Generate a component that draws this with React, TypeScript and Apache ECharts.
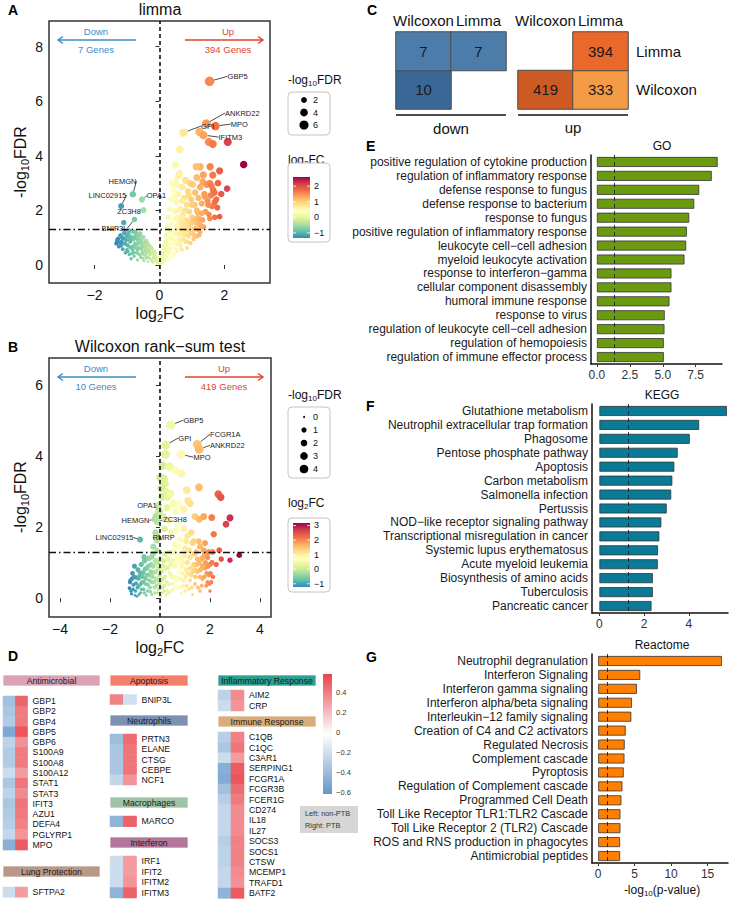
import React, { useEffect, useRef } from 'react';
import * as echarts from 'echarts';

const FONT = '"Liberation Sans", Arial, Helvetica, sans-serif';
const MINUS = '\u2212';
const signed = (v: number) => (v < 0 ? MINUS + Math.abs(v) : String(v));

const SPECTRAL = ['#3288BD', '#66C2A5', '#ABDDA4', '#E6F598', '#FFFFBF', '#FEE08B', '#FDAE61', '#F46D43', '#D53E4F', '#9E0142'];

// ---------- A: limma volcano (log2FC, -log10 FDR) ----------
const limmaPoints: [number, number][] = [
  [-1.33, 0.79], [-1.28, 0.95], [-1.25, 0.68], [-1.2, 1.08], [-1.16, 0.85], [-1.13, 0.58], [-1.1, 1.55], [-1.08, 1.18],
  [-1.05, 0.45], [-1.02, 0.92], [-0.98, 0.72], [-0.96, 1.12], [-0.93, 0.38], [-0.9, 0.86], [-0.88, 0.22], [-0.86, 1.02],
  [-0.83, 0.55], [-0.8, 1.22], [-0.78, 0.32], [-0.75, 0.78], [-0.72, 1.08], [-0.7, 0.45], [-0.68, 0.18], [-0.66, 0.92],
  [-0.63, 0.62], [-0.6, 1.15], [-0.58, 0.28], [-0.56, 0.78], [-0.53, 0.48], [-0.5, 1.02], [-0.48, 0.15], [-0.46, 0.68],
  [-0.43, 0.35], [-0.41, 0.88], [-0.38, 0.55], [-0.36, 0.12], [-0.33, 0.72], [-0.31, 0.38], [-0.28, 0.58], [-0.26, 0.2],
  [-0.23, 0.45], [-0.21, 0.08], [-0.18, 0.32], [-0.16, 0.5], [-0.13, 0.18], [-0.11, 0.28], [-0.08, 0.06], [-0.06, 0.14],
  [-0.03, 0.03], [-0.02, 0.1], [-1.0, 0.55], [-0.9, 0.65], [-0.85, 0.42], [-0.8, 0.95], [-0.72, 0.62], [-0.65, 0.4],
  [-0.62, 0.82], [-0.55, 0.6], [-0.52, 0.25], [-0.45, 0.5], [-0.4, 0.7], [-0.35, 0.28], [-0.3, 0.48], [-0.25, 0.62],
  [-0.2, 0.25], [-0.15, 0.38], [-0.1, 0.2], [-1.12, 0.98], [-0.94, 1.25], [-0.74, 1.2], [-0.87, 0.24],
  [-1.3, 0.9], [-1.22, 0.82], [-1.18, 0.72], [-1.15, 1.0], [-1.06, 0.78], [-1.0, 1.05], [-0.97, 0.5], [-0.92, 0.95],
  [-0.82, 0.68], [-0.78, 0.45], [-0.76, 1.0], [-0.7, 0.75], [-0.67, 0.55], [-0.64, 1.05], [-0.6, 0.38], [-0.57, 0.9],
  [-0.54, 0.7], [-0.51, 0.4], [-0.47, 0.82], [-0.44, 0.6], [-0.42, 0.25], [-0.39, 0.45], [-0.37, 0.8], [-0.34, 0.55],
  [-0.32, 0.25], [-0.29, 0.68], [-0.27, 0.4], [-0.24, 0.15], [-0.22, 0.55], [-0.19, 0.4], [-0.17, 0.12], [-0.14, 0.28],
  [-0.12, 0.42], [-0.09, 0.15], [-0.07, 0.3], [-0.04, 0.08], [-0.01, 0.05],
  [0.03, 0.02], [0.06, 0.1], [0.08, 0.25], [0.1, 0.05], [0.12, 0.4], [0.14, 0.6], [0.16, 0.15], [0.18, 0.85], [0.2, 1.1],
  [0.22, 0.3], [0.24, 1.4], [0.26, 0.7], [0.28, 1.75], [0.3, 0.5], [0.32, 2.05], [0.34, 1.2], [0.36, 2.4], [0.38, 0.9],
  [0.4, 1.6], [0.42, 2.75], [0.44, 0.45], [0.46, 1.95], [0.48, 3.05], [0.5, 1.3], [0.52, 2.3], [0.54, 0.75], [0.56, 1.75],
  [0.58, 2.6], [0.6, 1.05], [0.62, 3.35], [0.64, 2.05], [0.66, 0.6], [0.68, 1.45], [0.7, 2.85], [0.72, 1.85], [0.74, 0.95],
  [0.76, 2.45], [0.78, 1.25], [0.8, 3.1], [0.82, 1.65], [0.84, 2.2], [0.86, 0.85], [0.88, 2.7], [0.9, 1.4], [0.92, 1.95],
  [0.94, 3.0], [0.96, 1.15], [0.98, 2.4], [1.0, 1.75], [1.02, 2.95], [1.05, 1.3], [1.08, 2.2], [1.1, 2.65], [1.12, 1.55],
  [1.15, 3.2], [1.18, 1.9], [1.2, 2.45], [1.22, 1.1], [1.25, 2.85], [1.28, 1.65], [1.3, 2.25], [1.33, 3.05], [1.36, 1.4],
  [1.38, 2.6], [1.42, 1.95], [1.45, 2.95], [1.48, 2.35], [1.52, 1.85], [1.55, 3.0], [1.58, 2.55], [1.62, 2.15], [1.65, 2.75],
  [1.7, 1.75], [1.75, 2.4], [1.8, 3.0], [1.85, 1.77], [1.69, 2.65], [2.08, 2.8],
  [0.05, 0.04], [0.1, 0.12], [0.15, 0.22], [0.2, 0.32], [0.25, 0.18], [0.3, 0.42], [0.35, 0.28], [0.4, 0.62], [0.45, 0.35],
  [0.5, 0.78], [0.55, 0.52], [0.6, 0.95], [0.65, 0.72], [0.7, 0.55], [0.75, 1.1], [0.8, 0.85], [0.85, 0.62], [0.9, 1.05],
  [0.95, 0.8], [1.0, 1.2], [1.05, 0.95], [1.1, 1.35], [1.15, 1.05], [1.2, 1.5], [1.25, 1.2], [1.3, 1.4], [0.3, 1.2],
  [0.35, 1.5], [0.4, 0.95], [0.45, 1.25], [0.5, 1.7], [0.55, 2.0], [0.6, 1.35], [0.65, 1.7], [0.38, 3.0], [0.45, 2.5],
  [0.52, 2.95], [0.58, 3.25], [0.7, 2.35], [0.8, 2.0], [0.9, 2.55], [1.0, 2.2], [1.15, 2.0], [1.3, 1.9], [1.4, 2.5],
  [1.5, 2.2], [1.55, 1.7], [1.6, 2.9], [1.35, 3.3], [1.25, 3.6],
  [1.7, 2.3], [1.78, 2.1], [1.9, 2.6],
  [0.02, 0.08], [0.04, 0.18], [0.07, 0.32], [0.09, 0.45], [0.11, 0.22], [0.13, 0.7], [0.15, 0.5], [0.17, 0.35],
  [0.19, 0.62], [0.21, 0.8], [0.23, 0.5], [0.25, 0.95], [0.27, 0.6], [0.29, 1.0], [0.31, 0.75], [0.33, 0.6], [0.35, 1.0],
  [0.37, 0.7], [0.39, 1.2], [0.41, 0.85], [0.43, 1.1], [0.47, 0.9], [0.49, 1.15], [0.51, 0.6], [0.53, 1.45], [0.57, 1.2],
  [0.59, 0.8], [0.61, 1.6], [0.63, 1.15], [0.67, 0.9], [0.69, 1.25], [0.71, 1.6], [0.73, 1.4], [0.77, 0.9], [0.79, 1.5],
  [0.83, 1.3], [0.87, 1.1], [0.89, 1.6], [0.93, 1.25], [0.97, 1.5], [1.03, 1.6], [1.07, 1.1], [1.13, 1.7], [1.17, 1.3],
  [1.23, 1.7], [1.27, 1.45], [1.33, 1.65],
  [0.49, 3.67], [0.62, 4.23], [1.13, 3.6], [1.56, 3.6], [1.85, 3.45], [1.64, 3.29], [1.23, 4.88], [1.52, 4.51],
  [1.64, 4.43], [2.1, 4.51], [2.59, 3.68],
];
const limmaGenes = ['GBP5', 'ANKRD22', 'MPO', 'GPI', 'IFITM3', 'HEMGN', 'LINC02915', 'OPA1', 'ZC3H8', 'BNIP3L'];
const limmaGeneFC = [1.54, 1.44, 1.72, 0.74, 1.35, -0.82, -1.18, -0.54, -0.49, -0.77];
const limmaGeneFDR = [6.73, 5.18, 5.09, 4.85, 4.76, 2.59, 2.16, 2.4, 2.01, 1.67];

// ---------- B: Wilcoxon rank-sum volcano ----------
const wilcoxPoints: [number, number][] = [
  [-1.22, 0.28], [-1.18, 0.5], [-1.14, 0.12], [-1.1, 0.7], [-1.06, 0.38], [-1.02, 0.9], [-0.98, 0.2], [-0.95, 0.58],
  [-0.92, 0.05], [-0.88, 0.8], [-0.85, 0.35], [-0.82, 0.62], [-0.78, 0.15], [-0.75, 0.95], [-0.72, 0.45], [-0.68, 0.72],
  [-0.65, 0.25], [-0.62, 1.05], [-0.58, 0.55], [-0.55, 0.08], [-0.52, 0.85], [-0.48, 0.38], [-0.45, 1.12], [-0.42, 0.65],
  [-0.38, 0.18], [-0.35, 0.95], [-0.32, 0.45], [-0.28, 1.25], [-0.25, 0.72], [-0.22, 0.3], [-0.18, 1.05], [-0.15, 0.55],
  [-0.12, 1.35], [-0.09, 0.15], [-0.06, 0.85], [-0.03, 0.42], [0.0, 1.1],
  [-1.2, 0.45], [-1.16, 0.2], [-1.12, 0.55], [-1.08, 0.25], [-1.04, 0.6], [-1.0, 0.08], [-0.96, 0.42], [-0.9, 0.3],
  [-0.86, 0.55], [-0.84, 0.1], [-0.8, 0.72], [-0.77, 0.4], [-0.74, 0.25], [-0.7, 0.6], [-0.66, 0.45], [-0.63, 0.15],
  [-0.6, 0.82], [-0.57, 0.4], [-0.53, 0.65], [-0.5, 0.2], [-0.47, 0.9], [-0.43, 0.5], [-0.4, 0.3], [-0.37, 0.75],
  [-0.33, 0.1], [-0.3, 0.6], [-0.27, 0.9], [-0.23, 0.45], [-0.2, 0.15], [-0.17, 0.75], [-0.14, 0.35], [-0.11, 1.0],
  [-0.08, 0.5], [-0.05, 0.25], [-0.02, 0.65],
  [-0.64, 1.16], [-0.33, 1.16], [-0.27, 1.45], [-0.18, 1.85], [-0.1, 1.75], [-0.06, 2.6], [-0.03, 2.45], [0.02, 3.4],
  [0.05, 3.1], [0.1, 3.73], [0.08, 2.85], [0.12, 2.3], [0.15, 3.37], [0.18, 1.95], [0.2, 3.23], [0.24, 3.0], [0.22, 4.05],
  [0.37, 3.7], [0.6, 3.6], [0.87, 3.51], [0.28, 2.55], [0.35, 2.2], [0.53, 2.67], [0.45, 1.85], [0.62, 2.45], [0.7, 2.1],
  [0.3, 2.85], [0.42, 2.95], [0.75, 2.65], [0.95, 2.5], [1.12, 2.75], [1.07, 3.04], [1.2, 2.67], [1.56, 3.12], [1.4, 2.3],
  [1.57, 2.22], [1.75, 2.3], [2.07, 2.27], [2.33, 2.93], [2.43, 2.84], [2.8, 2.26], [2.64, 2.08], [1.8, 1.55], [2.15, 1.8],
  [2.37, 1.35], [2.45, 1.1], [2.8, 1.07], [3.17, 1.21], [2.25, 0.95], [2.1, 1.3], [1.25, 1.85], [0.95, 1.95], [0.65, 1.9],
  [0.03, 0.05], [0.08, 0.5], [0.12, 0.9], [0.16, 0.2], [0.2, 1.25], [0.25, 0.1], [0.3, 0.85], [0.35, 0.4], [0.4, 1.3],
  [0.45, 0.2], [0.5, 1.05], [0.55, 0.6], [0.6, 1.5], [0.65, 0.3], [0.7, 1.2], [0.75, 0.75], [0.8, 1.65], [0.85, 0.15],
  [0.9, 1.0], [0.95, 0.5], [1.0, 1.4], [1.05, 0.8], [1.1, 1.75], [1.15, 0.25], [1.2, 1.15], [1.25, 0.65], [1.3, 1.55],
  [1.35, 0.95], [1.4, 0.4], [1.45, 1.3], [1.5, 0.75], [1.55, 1.6], [1.6, 0.2], [1.65, 1.1], [1.7, 0.55], [1.75, 1.35],
  [1.8, 0.85], [1.85, 0.35], [1.9, 1.15], [1.95, 0.65], [2.0, 0.95], [2.05, 0.45], [0.1, 0.3], [0.2, 0.6], [0.3, 0.2],
  [0.4, 0.7], [0.5, 0.4], [0.6, 0.9], [0.7, 0.6], [0.8, 0.3], [0.9, 0.7], [1.0, 0.2], [1.1, 1.0], [1.2, 0.5], [1.3, 0.1],
  [1.4, 0.8], [1.5, 1.1], [1.6, 0.6], [1.7, 0.9], [1.8, 1.25], [1.9, 0.45], [2.0, 0.2], [0.55, 1.3], [0.75, 1.45],
  [0.85, 1.15], [1.05, 1.6], [1.35, 1.6], [1.6, 1.45], [1.95, 1.3],
  [0.02, 0.3], [0.05, 0.75], [0.07, 0.15], [0.11, 0.55], [0.14, 1.05], [0.17, 0.35], [0.22, 0.85], [0.27, 0.45],
  [0.32, 1.1], [0.37, 0.15], [0.42, 0.95], [0.47, 0.6], [0.52, 0.25], [0.57, 0.95], [0.62, 0.5], [0.67, 1.1], [0.72, 0.35],
  [0.77, 1.0], [0.82, 0.55], [0.87, 0.9], [0.92, 0.35], [0.97, 1.2], [1.02, 0.6], [1.07, 0.35], [1.12, 0.7], [1.17, 1.35],
  [1.22, 0.85], [1.27, 0.3], [1.32, 0.75], [1.37, 1.25], [1.42, 0.6], [1.47, 0.95], [1.52, 0.3], [1.57, 1.0], [1.62, 0.8],
  [1.67, 0.35], [1.72, 1.15], [1.77, 0.6], [1.82, 1.0], [1.87, 0.7], [1.92, 0.9], [1.97, 0.4], [2.02, 0.7], [2.08, 1.0],
  [2.12, 0.6],
];
const wilcoxGenes = ['GBP5', 'GPI', 'FCGR1A', 'ANKRD22', 'MPO', 'OPA1', 'HEMGN', 'ZC3H8', 'LINC02915', 'RMRP'];
const wilcoxGeneFC = [0.43, 0.23, 1.49, 1.57, 0.84, -0.16, -0.2, -0.12, -0.8, -0.13];
const wilcoxGeneFDR = [4.87, 4.31, 4.33, 4.19, 4.05, 2.3, 2.22, 2.15, 1.65, 1.62];

// ---------- differential gene counts ----------
const limmaDown = 7;
const limmaUp = 394;
const wilcoxDown = 10;
const wilcoxUp = 419;
const sharedDown = 7;
const sharedUp = 333;
const methods = ['Wilcoxon', 'Limma'];

// ---------- E/F/G enrichment (-log10 p-value) ----------
const goTerms = [
  'positive regulation of cytokine production', 'regulation of inflammatory response', 'defense response to fungus',
  'defense response to bacterium', 'response to fungus', 'positive regulation of inflammatory response',
  'leukocyte cell\u2212cell adhesion', 'myeloid leukocyte activation', 'response to interferon\u2212gamma',
  'cellular component disassembly', 'humoral immune response', 'response to virus',
  'regulation of leukocyte cell\u2212cell adhesion', 'regulation of hemopoiesis', 'regulation of immune effector process',
];
const goValues = [9.17, 8.72, 7.77, 7.39, 7.01, 6.83, 6.78, 6.65, 5.66, 5.66, 5.51, 5.15, 5.13, 5.08, 5.08];

const keggTerms = [
  'Glutathione metabolism', 'Neutrophil extracellular trap formation', 'Phagosome', 'Pentose phosphate pathway',
  'Apoptosis', 'Carbon metabolism', 'Salmonella infection', 'Pertussis', 'NOD\u2212like receptor signaling pathway',
  'Transcriptional misregulation in cancer', 'Systemic lupus erythematosus', 'Acute myeloid leukemia',
  'Biosynthesis of amino acids', 'Tuberculosis', 'Pancreatic cancer',
];
const keggValues = [5.7, 4.46, 4.04, 3.5, 3.35, 3.26, 3.21, 3.01, 2.77, 2.68, 2.62, 2.61, 2.39, 2.39, 2.33];

const reactomeTerms = [
  'Neutrophil degranulation', 'Interferon Signaling', 'Interferon gamma signaling', 'Interferon alpha/beta signaling',
  'Interleukin\u221212 family signaling', 'Creation of C4 and C2 activators', 'Regulated Necrosis', 'Complement cascade',
  'Pyroptosis', 'Regulation of Complement cascade', 'Programmed Cell Death', 'Toll Like Receptor TLR1:TLR2 Cascade',
  'Toll Like Receptor 2 (TLR2) Cascade', 'ROS and RNS production in phagocytes', 'Antimicrobial peptides',
];
const reactomeValues = [16.96, 5.76, 5.31, 4.63, 4.54, 3.77, 3.63, 3.6, 3.5, 3.32, 3.18, 3.05, 3.05, 3.0, 3.0];

const FDR_CUT = 1.3;

// ---------- D: gene groups, log2FC in non-PTB / PTB ----------
const antimicrobialGenes = ['GBP1', 'GBP2', 'GBP4', 'GBP5', 'GBP6', 'S100A9', 'S100A8', 'S100A12', 'STAT1', 'STAT3', 'IFIT3', 'AZU1', 'DEFA4', 'PGLYRP1', 'MPO'];
const antimicrobialNonPTB = [-0.38, -0.35, -0.32, -0.52, -0.28, -0.32, -0.32, -0.22, -0.35, -0.28, -0.35, -0.32, -0.3, -0.25, -0.48];
const antimicrobialPTB = [0.47, 0.4, 0.4, 0.52, 0.33, 0.4, 0.4, 0.3, 0.42, 0.35, 0.42, 0.4, 0.38, 0.32, 0.5];
const lungGenes = ['SFTPA2'];
const lungNonPTB = [-0.22];
const lungPTB = [0.3];
const apoptosisGenes = ['BNIP3L'];
const apoptosisNonPTB = [0.38];
const apoptosisPTB = [-0.2];
const neutrophilGenes = ['PRTN3', 'ELANE', 'CTSG', 'CEBPE', 'NCF1'];
const neutrophilNonPTB = [-0.4, -0.35, -0.35, -0.35, -0.25];
const neutrophilPTB = [0.45, 0.42, 0.42, 0.42, 0.32];
const macrophageGenes = ['MARCO'];
const macrophageNonPTB = [-0.45];
const macrophagePTB = [0.48];
const interferonGenes = ['IRF1', 'IFIT2', 'IFITM2', 'IFITM3'];
const interferonNonPTB = [-0.22, -0.22, -0.22, -0.45];
const interferonPTB = [0.3, 0.3, 0.32, 0.48];
const inflammatoryGenes = ['AIM2', 'CRP'];
const inflammatoryNonPTB = [-0.28, -0.22];
const inflammatoryPTB = [0.35, 0.32];
const immuneGenes = ['C1QB', 'C1QC', 'C3AR1', 'SERPING1', 'FCGR1A', 'FCGR3B', 'FCER1G', 'CD274', 'IL18', 'IL27', 'SOCS3', 'SOCS1', 'CTSW', 'MCEMP1', 'TRAFD1', 'BATF2'];
const immuneNonPTB = [-0.3, -0.35, -0.22, -0.48, -0.5, -0.38, -0.3, -0.25, -0.25, -0.25, -0.3, -0.28, -0.28, -0.25, -0.25, -0.45];
const immunePTB = [0.38, 0.42, 0.3, 0.5, 0.52, 0.45, 0.4, 0.35, 0.35, 0.35, 0.38, 0.38, 0.38, 0.35, 0.33, 0.5];
const heatTicks = [0.4, 0.2, 0, -0.2, -0.4, -0.6];
const HEAT_MIN = -0.62;
const HEAT_MAX = 0.58;

function buildOption() {
  const grids: any[] = [];
  const xAxes: any[] = [];
  const yAxes: any[] = [];
  const series: any[] = [];
  const visualMaps: any[] = [];
  const graphics: any[] = [];

  const panel = (grid: any, x: any, y: any) => {
    const i = grids.length;
    grids.push({ outerBoundsMode: 'none', containLabel: false, ...grid });
    xAxes.push({ gridIndex: i, ...x });
    yAxes.push({ gridIndex: i, ...y });
    return i;
  };
  const addSeries = (s: any) => {
    series.push(s);
    return series.length - 1;
  };
  const text = (x: number, y: number, t: string, o: any = {}) => {
    graphics.push({
      type: 'text', x, y, rotation: o.rotation || 0, silent: true,
      style: {
        text: t, fontFamily: FONT, fontSize: o.size || 12, fontWeight: o.weight || 'normal', fill: o.color || '#111',
        textAlign: o.align || 'center', textVerticalAlign: o.valign || 'middle', rich: o.rich,
      },
    });
  };
  const subText = (x: number, y: number, pre: string, sub: string, post: string, size: number, o: any = {}) => {
    const s = Math.round(size * 0.68);
    text(x, y, `{a|${pre}}{s|${sub}}{a|${post}}`, {
      ...o, size,
      rich: {
        a: { fontSize: size, fontFamily: FONT, lineHeight: size * 1.25, fill: '#111', color: '#111' },
        s: { fontSize: s, fontFamily: FONT, lineHeight: s, verticalAlign: 'bottom', color: '#111' },
      },
    });
  };
  const letter = (x: number, y: number, t: string) => text(x, y, t, { size: 14, weight: 'bold', align: 'left', color: '#000' });

  // ---------- volcano plots ----------
  const volcano = (c: any) => {
    const gi = panel(
      { left: c.left, top: c.top, width: c.width, height: c.height, show: true, borderColor: '#333', borderWidth: 1.5 },
      {
        type: 'value', min: c.xMin, max: c.xMax, splitLine: { show: false }, axisLine: { show: false },
        axisTick: { show: true, customValues: c.xTicks, length: 4, lineStyle: { color: '#333' } },
        axisLabel: { customValues: c.xTicks, formatter: signed, fontSize: 14, color: '#111', margin: 5, fontFamily: FONT },
      },
      {
        type: 'value', min: c.yMin, max: c.yMax, splitLine: { show: false }, axisLine: { show: false },
        axisTick: { show: true, customValues: c.yTicks, length: 4, lineStyle: { color: '#333' } },
        axisLabel: { customValues: c.yTicks, formatter: signed, fontSize: 14, color: '#111', margin: 6, fontFamily: FONT },
      },
    );
    const sizeOf = (v: any) => c.size(v[1]);
    const s1 = addSeries({
      type: 'scatter', xAxisIndex: gi, yAxisIndex: gi, data: c.points, symbolSize: sizeOf, silent: true,
      itemStyle: { opacity: 1 },
      markLine: {
        silent: true, symbol: 'none', label: { show: false }, animation: false,
        data: [
          { xAxis: 0, lineStyle: { type: [4, 3], width: 1.6, color: '#111' } },
          { yAxis: FDR_CUT, lineStyle: { type: [7, 3, 1.5, 3], width: 1.3, color: '#111' } },
        ],
      },
    });
    const s2 = addSeries({
      type: 'scatter', xAxisIndex: gi, yAxisIndex: gi, silent: true, symbolSize: sizeOf, itemStyle: { opacity: 1 },
      data: c.genes.map((g: string, i: number) => ({ name: g, value: [c.fc[i], c.fdr[i]] })),
      label: { show: true, formatter: '{b}', fontSize: 7.5, color: '#1a1a1a', fontFamily: FONT },
      labelLine: { show: true, lineStyle: { color: '#000', width: 0.7 } },
      labelLayout: (p: any) => {
        const sh = c.shifts[p.dataIndex] || [0, 0];
        return {
          x: p.rect.x + p.rect.width / 2 + sh[0], y: p.rect.y + p.rect.height / 2 + sh[1],
          align: 'center', verticalAlign: 'middle',
        };
      },
    });
    visualMaps.push({
      type: 'continuous', show: false, seriesIndex: [s1, s2], dimension: 0, min: c.cMin, max: c.cMax,
      inRange: { color: SPECTRAL },
    });

    letter(8, c.top - 11, c.letter);
    text(160, c.top - 12, c.title, { size: 16 });
    subText(160, c.top + c.height + 30, 'log', '2', 'FC', 16);
    subText(20, c.yTitleY, '-log', '10', 'FDR', 16, { rotation: Math.PI / 2 });

    // direction arrows
    const blue = '#3a8cc4';
    const red = '#e3412f';
    const ay = c.top + 19;
    const arrow = (x1: number, x2: number, col: string) => {
      const d = x2 > x1 ? -1 : 1;
      graphics.push({ type: 'line', silent: true, shape: { x1, y1: ay, x2, y2: ay }, style: { stroke: col, lineWidth: 1.4 } });
      graphics.push({
        type: 'polyline', silent: true,
        shape: { points: [[x2 + d * 5, ay - 3.5], [x2, ay], [x2 + d * 5, ay + 3.5]] },
        style: { stroke: col, lineWidth: 1.4, fill: 'none' },
      });
    };
    arrow(136, 58, blue);
    arrow(185, 263, red);
    text(96, ay - 9, 'Down', { size: 9.5, color: blue });
    text(96, ay + 9.5, `${c.down} Genes`, { size: 9.5, color: blue });
    text(c.upX, ay - 9, 'Up', { size: 9.5, color: red });
    text(c.upX, ay + 9.5, `${c.up} Genes`, { size: 9.5, color: red });

    // size legend
    const L = c.legend;
    subText(288, L.sizeTitle, '-log', '10', 'FDR', 12, { align: 'left' });
    graphics.push({
      type: 'rect', silent: true, shape: { x: 288, y: L.sizeBox[0], width: 42, height: L.sizeBox[1], r: 4 },
      style: { fill: '#fff', stroke: '#c4c4c4', lineWidth: 1 },
    });
    L.sizeValues.forEach((v: number, i: number) => {
      const cy = L.sizeY0 + i * L.sizeStep;
      graphics.push({ type: 'circle', silent: true, shape: { cx: 304, cy, r: c.size(v) / 2 }, style: { fill: '#000' } });
      text(313, cy, String(v), { size: 9, align: 'left' });
    });

    // colour legend
    subText(288, L.colTitle, 'log', '2', 'FC', 12, { align: 'left' });
    graphics.push({
      type: 'rect', silent: true, shape: { x: 288, y: L.colBox[0], width: 42, height: L.colBox[1], r: 4 },
      style: { fill: '#fff', stroke: '#c4c4c4', lineWidth: 1 },
    });
    const bx = 293, bw = 17, by = L.bar[0], bh = L.bar[1];
    graphics.push({
      type: 'rect', silent: true, shape: { x: bx, y: by, width: bw, height: bh },
      style: {
        fill: new echarts.graphic.LinearGradient(0, 1, 0, 0, SPECTRAL.map((col, i) => ({ offset: i / (SPECTRAL.length - 1), color: col }))),
      },
    });
    L.colTicks.forEach((v: number) => {
      const y = by + ((c.cMax - v) / (c.cMax - c.cMin)) * bh;
      graphics.push({ type: 'line', silent: true, shape: { x1: bx, y1: y, x2: bx + 3, y2: y }, style: { stroke: '#fff', lineWidth: 0.8 } });
      graphics.push({ type: 'line', silent: true, shape: { x1: bx + bw - 3, y1: y, x2: bx + bw, y2: y }, style: { stroke: '#fff', lineWidth: 0.8 } });
      text(314, y, signed(v), { size: 9, align: 'left' });
    });
  };

  volcano({
    letter: 'A', title: 'limma', left: 49, top: 21, width: 221, height: 262,
    xMin: -3.4, xMax: 3.4, yMin: -0.66, yMax: 8.94, xTicks: [-2, 0, 2], yTicks: [0, 2, 4, 6, 8],
    points: limmaPoints, genes: limmaGenes, fc: limmaGeneFC, fdr: limmaGeneFDR,
    shifts: [[28, -5], [36, -10.6], [24, -2], [24, -6.6], [27, 2], [-10.4, -13.3], [-13.6, -11], [14.5, -3.5], [-14.5, 1], [-20, 8.6]],
    size: (v: number) => 1.5 + 3.1 * Math.sqrt(Math.max(0, v)),
    cMin: -1.33, cMax: 2.59, down: limmaDown, up: limmaUp, upX: 228, yTitleY: 162,
    legend: {
      sizeTitle: 80, sizeBox: [92, 43], sizeValues: [2, 4, 6], sizeY0: 100, sizeStep: 12.5,
      colTitle: 160, colBox: [163, 79], bar: [177, 61], colTicks: [2, 1, 0, -1],
    },
  });

  volcano({
    letter: 'B', title: 'Wilcoxon rank\u2212sum test', left: 49, top: 358, width: 222, height: 259,
    xMin: -4.44, xMax: 4.44, yMin: -0.53, yMax: 6.76, xTicks: [-4, -2, 0, 2, 4], yTicks: [0, 2, 4, 6],
    points: wilcoxPoints, genes: wilcoxGenes, fc: wilcoxGeneFC, fdr: wilcoxGeneFDR,
    shifts: [[22.7, -5], [19, -7], [28, -10], [28, -4], [21, 3], [-9, -11], [-19.5, 1], [18, -2], [-25.5, -2], [7, -3.5]],
    size: (v: number) => 2 + 3.3 * Math.sqrt(Math.max(0, v)),
    cMin: -1.22, cMax: 3.17, down: wilcoxDown, up: wilcoxUp, upX: 224, yTitleY: 497,
    legend: {
      sizeTitle: 395, sizeBox: [407, 71], sizeValues: [0, 1, 2, 3, 4], sizeY0: 417, sizeStep: 13,
      colTitle: 503, colBox: [518, 74], bar: [523, 64], colTicks: [3, 2, 1, 0, -1],
    },
  });

  // ---------- C: overlap tiles ----------
  letter(367, 10, 'C');
  const tile = (left: number, rows: (number | null)[][], showRowLabels: boolean, pieces: any[]) => {
    const gi = panel(
      { left, top: 32, width: 110, height: 77 },
      {
        type: 'category', data: methods, position: 'top', axisLine: { show: false }, axisTick: { show: false },
        axisLabel: { interval: 0, fontSize: 15, color: '#111', margin: 4, fontFamily: FONT }, splitLine: { show: false },
      },
      {
        type: 'category', data: methods, position: 'right', axisLine: { show: false }, axisTick: { show: false },
        axisLabel: { show: showRowLabels, interval: 0, fontSize: 15, color: '#111', margin: 8, fontFamily: FONT },
      },
    );
    const data: any[] = [];
    rows.forEach((row, r) => row.forEach((v, col) => { if (v !== null) data.push([col, r, v]); }));
    const si = addSeries({
      type: 'heatmap', xAxisIndex: gi, yAxisIndex: gi, data, silent: true,
      itemStyle: { borderColor: '#4d4d4d', borderWidth: 1 },
      label: { show: true, fontSize: 15, color: '#1a1a1a', fontFamily: FONT },
    });
    visualMaps.push({ type: 'piecewise', show: false, seriesIndex: si, dimension: 2, pieces });
    graphics.push({ type: 'line', silent: true, shape: { x1: left, y1: 115, x2: left + 110, y2: 115 }, style: { stroke: '#111', lineWidth: 1.5 } });
  };
  // rows: index 0 = Wilcoxon (bottom), index 1 = Limma (top); columns follow `methods`
  tile(396, [[wilcoxDown, null], [sharedDown, limmaDown]], false, [
    { lte: 8, color: '#4b7caa' }, { gt: 8, color: '#3a6896' },
  ]);
  tile(518, [[wilcoxUp, sharedUp], [null, limmaUp]], true, [
    { lt: 360, color: '#f59a46' }, { gte: 360, lt: 405, color: '#e8692a' }, { gte: 405, color: '#cd5a23' },
  ]);
  text(451, 128, 'down', { size: 15 });
  text(573, 127, 'up', { size: 15 });

  // ---------- E/F/G: enrichment bars ----------
  const enrich = (c: any) => {
    const gi = panel(
      { left: c.left, top: c.top, width: c.width, height: 209 },
      {
        type: 'value', min: c.min, max: c.max, splitLine: { show: false },
        axisLine: { show: true, onZero: false, lineStyle: { color: '#111', width: 1.5 } },
        axisTick: { show: true, customValues: c.ticks, length: 3, lineStyle: { color: '#333' } },
        axisLabel: { customValues: c.ticks, formatter: c.fmt, fontSize: 12, color: '#333', margin: 5, fontFamily: FONT },
      },
      {
        type: 'category', data: c.terms, inverse: true,
        axisLine: { show: true, onZero: false, lineStyle: { color: '#111', width: 1.5 } }, axisTick: { show: false },
        axisLabel: { interval: 0, fontSize: 12, color: '#1a1a1a', margin: 4, fontFamily: FONT },
      },
    );
    addSeries({
      type: 'bar', xAxisIndex: gi, yAxisIndex: gi, data: c.values, barWidth: 10, silent: true,
      itemStyle: { color: c.color, borderColor: '#333', borderWidth: 0.8 },
      markLine: {
        silent: true, symbol: 'none', label: { show: false },
        data: [{ xAxis: FDR_CUT }], lineStyle: { type: [4, 3], color: '#222', width: 0.9 },
      },
    });
    text(662, c.top - 9, c.title, { size: 12 });
    letter(366, c.letterY, c.letter);
  };
  enrich({
    letter: 'E', letterY: 146, title: 'GO', left: 591, top: 155, width: 131, min: -0.45, max: 9.5,
    ticks: [0, 2.5, 5, 7.5], fmt: (v: number) => v.toFixed(1), terms: goTerms, values: goValues, color: '#6b9a10',
  });
  enrich({
    letter: 'F', letterY: 406, title: 'KEGG', left: 592, top: 404, width: 136, min: -0.33, max: 5.75,
    ticks: [0, 2, 4], fmt: (v: number) => String(v), terms: keggTerms, values: keggValues, color: '#0a7a96',
  });
  enrich({
    letter: 'G', letterY: 657, title: 'Reactome', left: 592, top: 654, width: 136, min: -0.85, max: 17.8,
    ticks: [0, 5, 10, 15], fmt: (v: number) => String(v), terms: reactomeTerms, values: reactomeValues, color: '#ff8000',
  });
  subText(662, 890, '-log', '10', '(p-value)', 12);

  // ---------- D: grouped heatmaps ----------
  letter(8, 656, 'D');
  const heatSeries: number[] = [];
  const block = (c: any) => {
    graphics.push({
      type: 'rect', silent: true, shape: { x: c.hx, y: c.hy, width: c.hw, height: 11 },
      style: { fill: c.color, stroke: 'rgba(255,255,255,0.7)', lineWidth: 1 },
    });
    text(c.hx + c.hw / 2, c.hy + 5.8, c.name, { size: 8.7, color: '#1a1a1a' });
    const gi = panel(
      { left: c.left, top: c.top, width: c.colW * 2, height: c.rowH * c.genes.length },
      { type: 'category', data: ['non-PTB', 'PTB'], show: false },
      {
        type: 'category', data: c.genes, inverse: true, position: 'right', axisLine: { show: false }, axisTick: { show: false },
        axisLabel: { interval: 0, fontSize: 8.7, color: '#111', margin: 5, fontFamily: FONT },
      },
    );
    const data: any[] = [];
    c.genes.forEach((_: string, i: number) => { data.push([0, i, c.left_[i]]); data.push([1, i, c.right_[i]]); });
    heatSeries.push(addSeries({ type: 'heatmap', xAxisIndex: gi, yAxisIndex: gi, data, silent: true }));
  };
  block({ name: 'Antimicrobial', color: '#dba2b6', hx: 3, hy: 675, hw: 97, left: 3, top: 696, colW: 12.3, rowH: 10.27, genes: antimicrobialGenes, left_: antimicrobialNonPTB, right_: antimicrobialPTB });
  block({ name: 'Lung Protection', color: '#b99888', hx: 3, hy: 866, hw: 97, left: 3, top: 887, colW: 12.3, rowH: 10.3, genes: lungGenes, left_: lungNonPTB, right_: lungPTB });
  block({ name: 'Apoptosis', color: '#f4806c', hx: 110, hy: 675, hw: 78, left: 110, top: 694.5, colW: 13.3, rowH: 10, genes: apoptosisGenes, left_: apoptosisNonPTB, right_: apoptosisPTB });
  block({ name: 'Neutrophils', color: '#7e90b1', hx: 110, hy: 715, hw: 78, left: 110, top: 734, colW: 13.3, rowH: 10.2, genes: neutrophilGenes, left_: neutrophilNonPTB, right_: neutrophilPTB });
  block({ name: 'Macrophages', color: '#a0c2a6', hx: 110, hy: 797, hw: 78, left: 110, top: 816, colW: 13.3, rowH: 10.7, genes: macrophageGenes, left_: macrophageNonPTB, right_: macrophagePTB });
  block({ name: 'Interferon', color: '#b3779b', hx: 110, hy: 837, hw: 78, left: 110, top: 856, colW: 13.3, rowH: 10.5, genes: interferonGenes, left_: interferonNonPTB, right_: interferonPTB });
  block({ name: 'Inflammatory Response', color: '#29a092', hx: 218, hy: 675, hw: 98, left: 218, top: 690, colW: 13, rowH: 10.5, genes: inflammatoryGenes, left_: inflammatoryNonPTB, right_: inflammatoryPTB });
  block({ name: 'Immune Response', color: '#d8ad7c', hx: 218, hy: 716, hw: 98, left: 218, top: 732, colW: 13, rowH: 10.4, genes: immuneGenes, left_: immuneNonPTB, right_: immunePTB });
  const HEAT_COLORS = ['#6497c9', '#ffffff', '#e8434a'];
  visualMaps.push({
    type: 'continuous', show: false, seriesIndex: heatSeries, dimension: 2, min: HEAT_MIN, max: HEAT_MAX,
    inRange: { color: HEAT_COLORS },
  });
  // heatmap colour key
  const kx = 323, ky = 674, kw = 9, kh = 120;
  graphics.push({
    type: 'rect', silent: true, shape: { x: kx, y: ky, width: kw, height: kh },
    style: {
      fill: new echarts.graphic.LinearGradient(0, 1, 0, 0, [
        { offset: 0, color: HEAT_COLORS[0] }, { offset: 0.5, color: HEAT_COLORS[1] }, { offset: 1, color: HEAT_COLORS[2] },
      ]),
    },
  });
  heatTicks.forEach((v) => {
    const y = ky + ((HEAT_MAX - v) / (HEAT_MAX - HEAT_MIN)) * kh;
    text(kx + kw + 4, y, v === 0 ? '0' : (v < 0 ? MINUS : '') + Math.abs(v).toFixed(1), { size: 7.5, align: 'left', color: '#333' });
  });
  graphics.push({ type: 'rect', silent: true, shape: { x: 300, y: 806, width: 58, height: 27 }, style: { fill: '#d6d6d6' } });
  text(305, 813.5, 'Left: non-PTB', { size: 7.3, align: 'left', color: '#333' });
  text(305, 825, 'Right: PTB', { size: 7.3, align: 'left', color: '#333' });

  return {
    animation: false,
    backgroundColor: '#ffffff',
    textStyle: { fontFamily: FONT },
    grid: grids,
    xAxis: xAxes,
    yAxis: yAxes,
    visualMap: visualMaps,
    series,
    graphic: graphics,
  };
}

export default function App() {
  const ref = useRef<HTMLDivElement>(null);
  useEffect(() => {
    if (!ref.current) return;
    const chart = echarts.init(ref.current, undefined, { renderer: 'svg' });
    chart.setOption(buildOption() as any);
    return () => chart.dispose();
  }, []);
  return <div ref={ref} style={{ position: 'absolute', left: 0, top: 0, width: 736, height: 901, background: '#fff' }} />;
}
